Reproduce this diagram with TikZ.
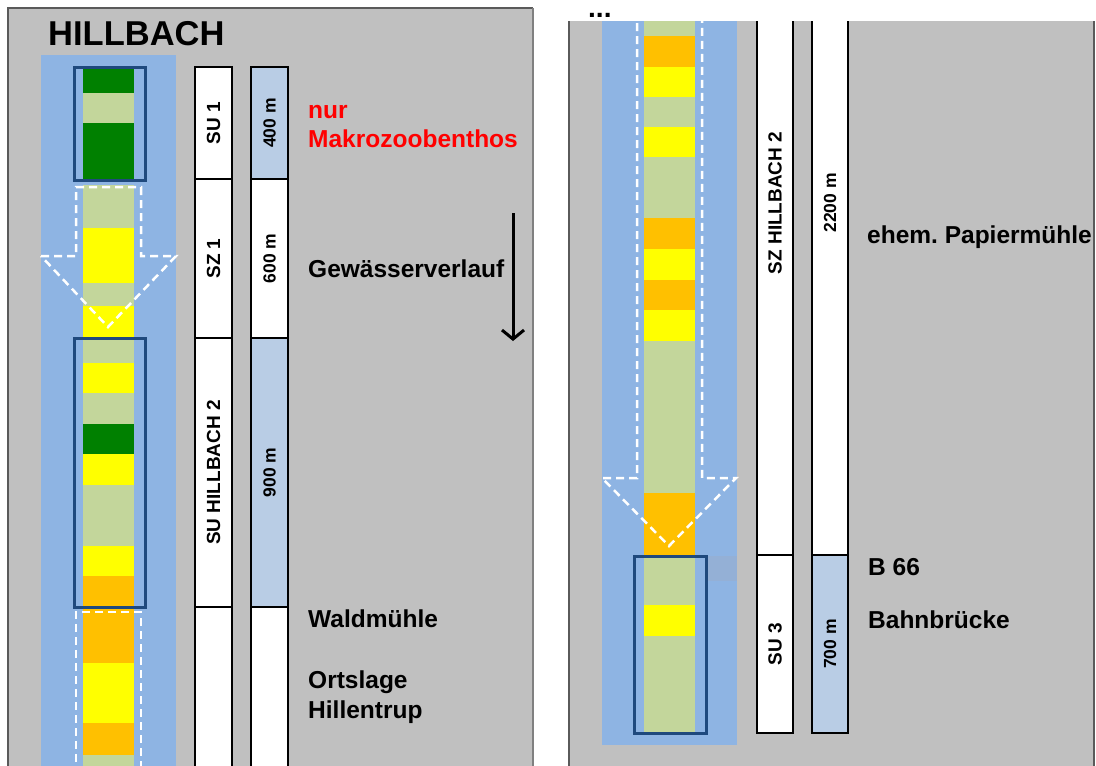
\documentclass[tikz,border=0pt]{standalone}
\usepackage{fontspec}
\setmainfont{Liberation Sans}
\usetikzlibrary{arrows.meta}
\definecolor{panel}{HTML}{C0C0C0}
\definecolor{band}{HTML}{8EB4E3}
\definecolor{bandd}{HTML}{94B0D6}
\definecolor{lblue}{HTML}{B9CDE5}
\definecolor{lgreen}{HTML}{C3D69B}
\definecolor{dgreen}{HTML}{008000}
\definecolor{yel}{HTML}{FFFF00}
\definecolor{ora}{HTML}{FFC000}
\definecolor{frame}{HTML}{1F497D}
\definecolor{pborder}{HTML}{5A5A5A}
\tikzset{
 lbl/.style={anchor=base west, inner sep=0, font=\fontsize{24.5}{24.5}\selectfont\bfseries},
 segbox/.style={draw=black, line width=2pt, rotate=90, inner sep=0, font=\fontsize{19}{19}\selectfont\bfseries},
 lenbox/.style={segbox, font=\fontsize{17.5}{17.5}\selectfont\bfseries},
 dashw/.style={white, line width=2.5pt, dash pattern=on 8pt off 5pt},
 frm/.style={draw=frame, line width=3pt},
}
\begin{document}
\frenchspacing
\begin{tikzpicture}[x=1pt,y=-1pt]
\useasboundingbox (0,0) rectangle (1096,766);
\fill[white] (0,0) rectangle (1096,766);
\clip (0,0) rectangle (1096,766);

% ================= LEFT PANEL =================
\fill[panel] (8,8) rectangle (533,770);
\draw[pborder, line width=2pt] (8,770) -- (8,8) -- (533,8);
\draw[gray, line width=1.5pt] (533,8) -- (533,770);
\node[lbl, font=\fontsize{34.5}{34.5}\selectfont\bfseries] (title) at (48,45) {HILLBACH};

\fill[band] (41,55) rectangle (176,770);
% stripes
\fill[dgreen] (83,67) rectangle (134,93);
\fill[lgreen] (83,93) rectangle (134,123);
\fill[dgreen] (83,123) rectangle (134,180);
\fill[lgreen] (83,185) rectangle (134,228);
\fill[yel] (83,228) rectangle (134,283);
\fill[lgreen] (83,283) rectangle (134,306);
\fill[yel] (83,306) rectangle (134,338);
\fill[lgreen] (83,338) rectangle (134,363);
\fill[yel] (83,363) rectangle (134,393);
\fill[lgreen] (83,393) rectangle (134,424);
\fill[dgreen] (83,424) rectangle (134,454);
\fill[yel] (83,454) rectangle (134,485);
\fill[lgreen] (83,485) rectangle (134,546);
\fill[yel] (83,546) rectangle (134,576);
\fill[ora] (83,576) rectangle (134,663);
\fill[yel] (83,663) rectangle (134,723);
\fill[ora] (83,723) rectangle (134,755);
\fill[lgreen] (83,755) rectangle (134,770);
% frames
\draw[frm] (74,67) rectangle (145,180);
\draw[frm] (74,338) rectangle (145,607);
% dashed arrow and dashed rectangle
\draw[dashw] (41,256) -- (76,256) -- (76,187) -- (141,187) -- (141,256) -- (176,256) -- (108,327) -- cycle;
\draw[dashw] (76,775) -- (76,612) -- (141,612) -- (141,775);

% segment columns
\node[segbox, fill=white, minimum width=112pt, minimum height=37pt] (su1) at (213.5,123) {SU 1};
\node[segbox, fill=white, minimum width=159pt, minimum height=37pt] (sz1) at (213.5,258.5) {SZ 1};
\node[segbox, fill=white, minimum width=269pt, minimum height=37pt] (su2) at (213.5,472.5) {SU HILLBACH 2};
\node[segbox, fill=white, minimum width=180pt, minimum height=37pt] (sul) at (213.5,697) {};
\node[lenbox, fill=lblue, minimum width=112pt, minimum height=37pt] (l400) at (269.5,123) {400 m};
\node[lenbox, fill=white, minimum width=159pt, minimum height=37pt] (l600) at (269.5,258.5) {600 m};
\node[lenbox, fill=lblue, minimum width=269pt, minimum height=37pt] (l900) at (269.5,472.5) {900 m};
\node[lenbox, fill=white, minimum width=180pt, minimum height=37pt] (lrest) at (269.5,697) {};

% labels
\node[lbl, text=red] (nur) at (308,118) {nur};
\node[lbl, text=red] (mzb) at (308,147) {Makrozoobenthos};
\node[lbl] (gew) at (308,277) {Gewässerverlauf};
\node[lbl] (wald) at (308,627) {Waldmühle};
\node[lbl] (orts) at (308,688) {Ortslage};
\node[lbl] (hill) at (308,718) {Hillentrup};
\coordinate (flowA) at (513,213);
\coordinate (flowB) at (513,341);
\draw[line width=3pt, -{Straight Barb[length=9pt,width=22pt]}] (flowA) -- (flowB);

% ================= RIGHT PANEL =================
\node[lbl, font=\fontsize{28}{28}\selectfont\bfseries] (dots) at (588,17.5) {...};
\begin{scope}
\clip (569,21) rectangle (1096,770);
\fill[panel] (569,21) rectangle (1094,770);
\fill[band] (602,0) rectangle (737,745);
\fill[lgreen] (644,0) rectangle (695,36);
\fill[ora] (644,36) rectangle (695,67);
\fill[yel] (644,67) rectangle (695,97);
\fill[lgreen] (644,97) rectangle (695,127);
\fill[yel] (644,127) rectangle (695,157);
\fill[lgreen] (644,157) rectangle (695,218);
\fill[ora] (644,218) rectangle (695,249);
\fill[yel] (644,249) rectangle (695,280);
\fill[ora] (644,280) rectangle (695,310);
\fill[yel] (644,310) rectangle (695,341);
\fill[lgreen] (644,341) rectangle (695,493);
\fill[ora] (644,493) rectangle (695,556);
\fill[lgreen] (644,556) rectangle (695,605);
\fill[yel] (644,605) rectangle (695,636);
\fill[lgreen] (644,636) rectangle (695,733);
\fill[bandd] (706,556) rectangle (737,581);
\draw[frm] (634,556) rectangle (706,733);
\draw[dashw] (637,10) -- (637,478) -- (602,478) -- (669,546) -- (736,478) -- (702,478) -- (702,10);

\node[segbox, fill=white, minimum width=704pt, minimum height=36pt] (sz2) at (775,203) {SZ HILLBACH 2};
\node[segbox, fill=white, minimum width=178pt, minimum height=36pt] (su3) at (775,644) {SU 3};
\node[lenbox, fill=white, minimum width=704pt, minimum height=36pt] (l2200) at (830,203) {2200 m};
\node[lenbox, fill=lblue, minimum width=178pt, minimum height=36pt] (l700) at (830,644) {700 m};
\end{scope}
\draw[pborder, line width=2pt] (569,21) -- (569,770);
\draw[pborder, line width=1.5pt] (1094,21) -- (1094,770);

\node[lbl] (pap) at (867,243) {ehem. Papiermühle};
\node[lbl] (b66) at (868,575) {B 66};
\node[lbl] (bahn) at (868,628) {Bahnbrücke};
\end{tikzpicture}
\end{document}
